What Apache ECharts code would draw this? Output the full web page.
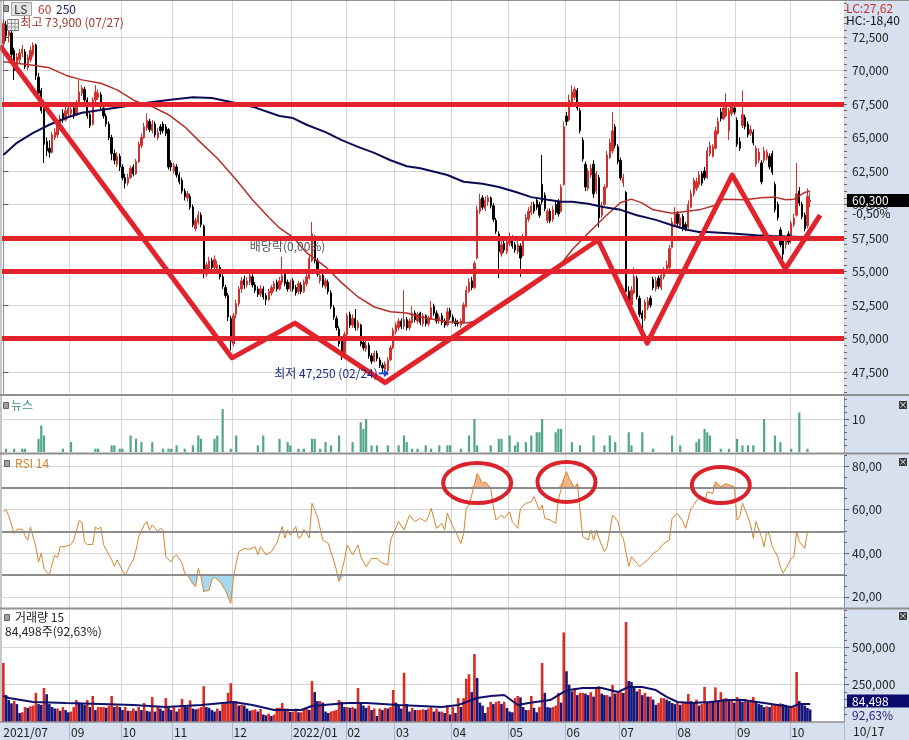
<!DOCTYPE html>
<html>
<head>
<meta charset="utf-8">
<script src="https://cdn.jsdelivr.net/npm/echarts@6/dist/echarts.min.js"></script>
<style>
html,body{margin:0;padding:0;background:#fff;}
#chart{width:909px;height:740px;}
</style>
</head>
<body>
<div id="chart"></div>
<script>
// x axis: months and their trading days (last month cut at 10/14)
const monthLabels = ['2021/07','08','09','10','11','12','2022/01','02','03','04','05','06','07','08','09','10'];
const monthDays   = [4,21,19,19,22,22,20,18,21,21,21,20,21,22,20,8];
const monthShown  = [true,false,true,true,true,true,true,true,true,true,true,true,true,true,true,true];
const blankSlots = 12;

// daily candles [open, close, low, high]
const candles = [
[72000,73500,71800,73900],[73400,72600,72200,73700],[72600,72900,72100,73300],[72800,71200,70900,73000],
[71500,70000,69300,71700],[70300,71000,70100,71300],[70800,71300,70500,71600],[71300,71600,71000,71900],
[71400,70300,70100,71600],[70200,71000,70000,71200],[70800,71500,70600,71800],[71200,71900,71000,72100],
[71900,69600,69300,72000],[69500,68300,68100,69800],[68500,67000,66800,68700],[67200,64500,63100,67300],
[64700,64000,63600,65000],[64200,63900,63500,64800],[63900,65200,63800,65400],[65000,65400,64800,65700],
[65200,66000,65000,66300],[65800,66400,65600,66700],[66800,66300,66100,67100],[66300,67000,66200,67300],
[66800,67200,66600,67500],[66800,67100,66500,67400],[67200,66600,66400,67400],[66700,67500,66600,67800],
[67500,68400,67300,69300],[68300,68700,68100,68900],[68600,67800,67600,68800],[67800,66600,66400,68000],
[66700,65900,65700,66900],[66000,67800,65900,68000],[67800,68400,67600,68900],[68000,68300,67800,68600],
[68200,67300,67100,68400],[67200,66600,66400,67400],[66600,66000,65800,66800],[66000,65000,64800,66200],
[65000,63800,63300,65200],[63800,63300,63000,64100],[63000,63600,62800,63900],[63600,62800,62500,63800],
[62800,62000,61800,63000],[62000,61600,61200,62300],[61600,62000,61400,62300],[62000,62700,61900,62900],
[62800,62300,62100,63000],[62300,63200,62200,63400],[63200,64500,63100,64700],[64400,65000,64200,65300],
[65000,65800,64900,66100],[65700,66300,65500,66800],[66200,65600,65400,66400],[65500,66000,65300,66300],
[66000,65200,65000,66200],[65000,65400,64800,65700],[65800,65500,65200,66000],[66000,65500,65300,66200],
[65800,65300,65100,66000],[65600,62800,62600,65700],[63100,62800,62500,63300],[62500,62900,62300,63100],
[62800,62200,62000,63000],[62200,61700,61500,62400],[61800,61000,60800,62000],[61000,60600,60300,61200],
[60500,60800,60200,61000],[60600,59800,59600,60800],[59800,58500,58300,60000],[58200,58800,58000,59000],
[58700,59200,58500,59500],[59200,58500,58300,59400],[58400,55200,54500,58500],[54800,55500,54600,55700],
[55200,55800,55000,56100],[55800,55300,55100,56000],[55300,55900,55100,56200],[55200,55500,55000,55800],
[55300,54600,54400,55500],[54600,53900,53700,54800],[53800,53200,53000,54000],[53200,51600,51300,53400],
[51500,49800,49100,51700],[49600,51700,49400,51900],[51800,52600,51500,52900],[52600,53700,52400,53900],
[53700,54300,53400,54600],[54400,54000,53700,54700],[54000,54300,53800,54600],[54200,54700,54000,55100],
[54600,54000,53800,54800],[54000,53600,53400,54200],[53700,53300,53100,53900],[53300,53700,53100,54000],
[53700,53100,52900,53900],[53200,52900,52500,53400],[52900,53500,52800,53700],[53400,53800,53200,54000],
[53700,54100,53500,54300],[54200,53700,53500,54400],[53700,54300,53600,54600],[54200,54700,54000,56100],
[54800,54100,53900,55000],[54200,53700,53500,54400],[53700,54200,53500,54400],[54300,53700,53500,54500],
[53800,53400,53200,54000],[53500,54100,53300,54300],[54000,53500,53300,54200],[53500,54200,53400,54400],
[54100,54600,53900,54900],[54500,56000,54400,56300],[55800,57800,55700,58700],[57500,55800,55600,57700],
[55800,54800,54600,56000],[54300,54700,54100,55000],[54700,54000,53800,54900],[53900,54300,53700,54500],
[54200,53500,53300,54400],[53400,52400,52200,53600],[52300,51600,51400,52500],[51500,50800,50600,51700],
[50700,49600,49400,50900],[49800,48800,48400,50000],[48900,50300,48700,50500],[50300,51700,50200,51900],
[51800,51000,50800,52000],[51000,51500,50800,51800],[51500,50800,50600,52200],[50800,51200,50600,51400],
[51000,49600,49400,51100],[49700,49300,49100,49900],[49200,49500,49000,49800],[49500,48700,48500,49700],
[48700,48300,48100,48900],[48300,48900,48200,49100],[48900,48500,48300,49100],[48400,48000,47800,48600],
[48000,47800,47500,48200],[47700,48100,47500,48300],[47600,48400,47250,48600],[48400,49300,48300,49500],
[49300,50600,49200,50800],[50500,51000,50300,51200],[50800,51300,50600,51500],[51300,50900,50700,51500],
[50900,51400,50700,53600],[51400,50800,50600,51600],[50800,51300,50600,51500],[51200,51900,51100,52400],
[51900,51400,51200,52100],[51300,51800,51100,52000],[51900,51200,51000,52000],[51100,51700,50900,51900],
[51700,51100,50900,51800],[51100,51500,50900,51700],[51500,52300,51400,52800],[52400,51900,51700,52600],
[51900,51300,51100,52100],[51300,51600,51100,51800],[51700,51200,51000,51900],[51300,51000,50800,51500],
[51000,52000,50900,52300],[52100,51600,51400,52300],[51600,51300,51100,51800],[51300,51100,50900,51500],
[51200,51100,50900,51400],[51000,51300,50800,51500],[51200,52500,51100,52700],[52400,53600,52300,53900],
[53500,54200,53400,54500],[54300,53800,53600,54600],[53800,55600,53700,55800],[56000,59600,55900,59900],
[59500,60400,59300,60800],[60500,59800,59600,60700],[59700,60300,59500,60600],[60200,60500,59900,60700],
[60500,59900,59700,60600],[59900,58900,58700,60100],[58800,58000,57800,59000],[57800,56500,54500,58000],
[56300,57000,56100,57300],[57100,56600,56400,57400],[56500,57200,56300,57500],[57100,57600,56900,57900],
[57500,56900,56700,57700],[57000,56600,56400,57200],[56500,57000,56300,57300],[56900,56000,54600,57100],
[56200,57500,56100,57800],[57500,59000,57400,59300],[58900,59500,58700,59800],[59400,59900,59200,60200],
[60000,59500,59300,60200],[60300,59800,59600,60500],[60000,59200,59000,60200],[61500,60200,60000,63700],
[60700,59700,59500,60900],[58800,59500,58600,59700],[59500,58800,58600,59700],[58900,59600,58700,59900],
[60000,59400,59200,60200],[60200,59300,59100,60400],[59500,61300,59400,61500],[61500,65800,61400,66200],
[66600,66200,65900,66900],[66300,67800,66200,68200],[67600,68400,67400,68900],[68000,68600,67800,68800],
[68500,67200,67000,68700],[67000,65500,65300,67200],[64800,63400,63200,65000],[63000,61300,61000,63200],
[61200,62500,61000,62700],[62200,62700,62000,63000],[63000,60800,60500,63300],[61000,62300,60800,62500],
[62000,59000,58300,62200],[59200,59900,59000,60200],[60000,61300,59900,61500],[61300,63700,61200,64000],
[63500,64600,63400,64900],[64000,65500,63800,66900],[65800,64400,64200,66000],[64300,63200,63000,64500],
[63300,62000,61800,63500],[61600,62000,61300,62300],[60900,53500,53300,61000],[53500,52600,52300,53900],
[52500,53600,52400,53900],[53400,54600,53300,55300],[54500,53100,52900,54700],[53000,51800,51600,53200],
[51900,51500,50500,52100],[51500,52700,51300,52900],[52300,52800,52100,53100],[53000,52500,52300,53200],
[54400,53800,53600,54600],[53700,54300,53500,54600],[54500,53900,53700,54700],[53800,54700,53600,55000],
[54600,55000,54400,55300],[55000,55500,54800,55800],[55300,56700,55100,57000],[56800,58700,56700,59000],
[58500,59300,58300,59800],[59300,58600,58400,59500],[58400,59000,58200,59300],[59100,58200,58000,59300],
[58500,58200,58000,58700],[58300,60000,58200,60300],[59800,60800,59700,61100],[60800,61800,60600,62000],
[61200,61700,61000,62000],[61500,62200,61300,62500],[62300,61600,61400,62500],[62500,62000,61800,62800],
[62000,64000,61900,64300],[63800,64400,63600,64700],[63600,64300,63500,64500],[64200,65500,64100,65800],
[65300,66200,65200,66500],[66900,66400,66200,67200],[66400,67200,66300,67500],[66600,67400,66500,68300],
[65500,67000,64800,67200],[66800,67300,66600,67600],[67200,66900,66700,67500],[66300,64500,64300,66500],
[64700,64200,64000,65000],[65900,66700,65700,68500],[66500,65800,65600,66700],[66000,65200,65000,66200],
[65300,65600,65100,65900],[65400,64600,64400,65600],[63000,64200,62800,64400],[63300,63900,63100,64200],
[63100,61700,61500,63300],[63300,64000,63100,64300],[63500,63900,63300,64100],[63600,62800,62600,63800],
[63800,62400,62200,64000],[61500,59600,59400,61700],[60000,59000,58800,60200],[58100,57000,56800,58300],
[57500,56300,55900,57700],[57000,57400,56700,57600],[57800,57200,57000,58000],[57300,58600,57100,58800],
[58500,59000,58300,59300],[59200,60800,59100,63100],[61000,60100,59900,61300],[60000,59100,58900,60200],
[59200,58200,58000,59400],[58400,60600,58200,61200],[60200,60300,59800,60900]
];

const volumes = [
395000,180000,147000,125000,142000,120000,60000,65000,100000,95000,105000,110000,195000,120000,115000,228000,
186000,120000,100000,90000,90000,75000,100000,80000,65000,70000,100000,147000,130000,120000,115000,147000,
100000,174000,80000,100000,100000,100000,95000,110000,174000,100000,110000,100000,80000,100000,75000,75000,
90000,75000,100000,80000,127000,75000,70000,167000,70000,100000,90000,75000,160000,95000,80000,100000,
70000,90000,155000,110000,100000,145000,90000,85000,90000,100000,240000,100000,95000,80000,70000,90000,
75000,120000,125000,195000,260000,135000,140000,110000,115000,110000,90000,75000,80000,85000,70000,87000,
50000,45000,55000,40000,50000,95000,95000,127000,90000,90000,67000,70000,90000,65000,65000,90000,
100000,80000,275000,200000,140000,140000,130000,70000,60000,70000,75000,80000,147000,135000,100000,100000,
95000,100000,90000,228000,134000,110000,95000,110000,80000,90000,40000,90000,80000,95000,90000,100000,
215000,130000,110000,90000,330000,120000,70000,94000,80000,80000,80000,85000,80000,90000,100000,70000,
90000,70000,70000,60000,114000,50000,100000,60000,160000,100000,160000,290000,320000,200000,455000,295000,
130000,110000,60000,100000,135000,120000,135000,140000,120000,135000,94000,70000,65000,160000,174000,165000,
100000,80000,80000,174000,95000,65000,100000,395000,195000,100000,95000,100000,110000,195000,130000,600000,
340000,250000,205000,228000,180000,195000,195000,190000,180000,200000,170000,235000,240000,190000,180000,180000,
170000,248000,190000,195000,200000,195000,670000,275000,268000,230000,205000,220000,180000,195000,170000,170000,
150000,115000,127000,160000,160000,150000,140000,127000,120000,127000,115000,127000,130000,188000,140000,127000,
150000,110000,120000,235000,127000,140000,135000,232000,140000,200000,155000,160000,140000,150000,130000,168000,
155000,135000,155000,135000,145000,168000,135000,120000,115000,100000,105000,100000,120000,120000,120000,125000,
120000,115000,100000,100000,100000,335000,140000,115000,110000,94000,84498
];

// moving averages: [day index, value]
const ma60 = [[0,70650],[11,70400],[17,70200],[23,69650],[29,69300],[36,69050],[42,68550],[48,67800],[52,67450],
[55,67300],[61,66700],[67,65800],[73,64600],[79,63450],[86,61850],[92,60350],[98,59050],[102,58250],[107,57550],
[112,56400],[119,55350],[125,54150],[131,53100],[137,52350],[143,52000],[149,51900],[154,51600],[164,51250],
[171,51150],[176,51350],[182,52100],[192,53400],[205,55300],[210,56600],[216,57850],[222,59050],[228,60150],
[232,60400],[236,60100],[240,59600],[247,59350],[257,59600],[263,59950],[266,60400],[274,60350],[280,60500],
[285,60550],[289,60350],[292,60400],[296,60900],[298,61000]];
const ma250 = [[0,63700],[5,64600],[11,65350],[17,65950],[23,66450],[29,66850],[36,67050],[44,67300],[53,67600],
[61,67800],[70,68000],[77,67950],[84,67650],[92,67300],[102,66600],[107,66450],[112,65950],[119,65400],[125,64800],
[131,64300],[137,63850],[143,63300],[149,62850],[154,62700],[164,62200],[170,61700],[177,61550],[183,61300],
[189,60950],[195,60550],[201,60350],[206,60200],[210,60200],[216,60050],[222,59800],[228,59600],[234,59200],
[241,58850],[247,58450],[253,58100],[257,57950],[260,57950],[268,57850],[278,57700],[284,57650],[298,57550]];
const volMa15 = [[0,175000],[2,161000],[11,134000],[23,127000],[36,121000],[48,114000],[60,100000],[73,114000],
[85,134000],[92,114000],[100,80000],[110,80000],[114,107000],[127,127000],[134,127000],[146,114000],[162,100000],
[168,114000],[171,134000],[175,161000],[180,174000],[185,181000],[190,114000],[194,127000],[202,147000],
[207,201000],[209,214000],[214,228000],[221,228000],[227,201000],[231,235000],[236,235000],[241,214000],
[245,168000],[249,134000],[254,127000],[261,134000],[268,147000],[273,147000],[281,127000],[286,114000],
[291,100000],[294,121000],[298,121000]];

// RSI 14: [day index, value]
const rsi14 = [[0,59],[1,60],[2,57],[4,49],[5,51],[7,51],[8,48],[9,46],[10,52],[12,43],[13,36],[14,40],[15,33],
[17,30],[18,35],[19,39],[20,38],[21,43],[23,43],[25,44],[26,46],[28,55],[29,54],[30,45],[31,44],[33,44],[34,52],
[35,51],[36,52],[37,44],[38,41.5],[40,37],[41,34],[42,37],[44,32],[45,30],[47,35],[48,37],[49,41.5],[50,47.6],
[52,53],[53,54.5],[54,50.6],[55,53],[57,50],[58,51.4],[59,50.6],[60,38.4],[62,36],[63,38.4],[64,39.2],[66,35.4],
[67,30.8],[68,30],[70,26],[71,24.6],[72,33],[73,29.2],[74,22.4],[76,23],[77,27.7],[78,29],[80,27],[82,23],[84,17],
[85,29],[86,35.4],[87,40.7],[89,42.2],[91,41.8],[93,43],[94,39.2],[95,43],[97,39.2],[99,40.7],[101,44.5],
[103,52.2],[104,47],[105,50.6],[106,48.4],[108,52.2],[109,47],[110,47.6],[111,51],[113,47],[114,62.9],[116,56.8],
[118,46],[120,44.5],[122,36.9],[123,32.3],[124,27],[126,36.9],[127,43.8],[129,39.2],[131,43.8],[132,38.4],
[134,33.8],[136,37.6],[138,37.6],[140,35.4],[142,34.6],[143,46],[146,54.5],[148,50.6],[150,57.5],[152,54.5],
[154,56],[156,54.5],[157,56.8],[158,60.6],[160,51.4],[162,53.7],[163,50.6],[164,58.3],[166,52.2],[167,50],
[169,44.5],[170,49],[171,60.6],[172,62.1],[174,71.3],[175,76.6],[177,72],[178,72.8],[180,69.8],[181,61.3],
[182,55.2],[184,57.5],[185,56],[187,59],[188,54.5],[190,51.4],[191,60.6],[193,62.9],[195,63.6],[196,65.9],
[198,59.8],[199,62.1],[200,56],[202,55.2],[204,53.7],[205,64.4],[207,74.3],[208,77.4],[209,74.3],[211,69.8],
[212,72],[213,59.8],[214,47.6],[216,46],[217,50.6],[218,46],[219,50.6],[220,46.8],[222,40.7],[223,43],[224,50],
[225,57.5],[227,54.5],[228,49],[229,46.8],[231,33.8],[232,38.4],[234,35.4],[235,33.8],[237,36.1],[238,36.9],
[240,39.9],[242,41.5],[244,44.5],[246,46],[247,56],[249,58.3],[251,54.5],[252,51.4],[254,60.6],[255,62.1],
[257,65.9],[259,63.6],[260,68.2],[262,67.4],[263,72.8],[265,70.5],[267,72],[268,71.3],[270,70.5],[271,55.2],
[272,56.8],[273,62.9],[275,56.8],[276,52.9],[277,46.8],[278,54.5],[280,47.6],[281,43],[282,50],[283,48.4],
[284,43],[286,38.4],[287,33.8],[288,30.8],[289,33],[291,37.6],[292,38.4],[293,50],[294,45.3],[296,42.2],
[297,50],[298,50]];

// news count per day: [day index, count]
const news = [[1,1],[4,1],[7,1],[8,1],[13,4],[14,8],[15,5],[22,1],[25,3],[34,1],[35,1],[40,2],[41,2],[43,1],[44,1],
[47,5],[49,4],[51,3],[55,3],[59,1],[61,1],[62,1],[64,2],[67,1],[70,2],[72,5],[73,4],[78,4],[79,5],[81,13],[84,1],
[86,5],[94,2],[96,5],[102,4],[105,3],[106,2],[109,1],[111,1],[114,4],[115,4],[117,1],[119,3],[121,2],[124,5],
[129,3],[132,9],[133,7],[134,10],[136,2],[138,2],[142,2],[146,2],[148,5],[149,3],[151,1],[153,1],[156,2],[158,1],
[161,2],[164,2],[165,2],[169,1],[172,5],[174,10],[175,2],[180,2],[183,4],[184,4],[187,5],[189,2],[190,3],[193,3],
[195,5],[197,6],[198,6],[199,10],[204,6],[205,7],[206,7],[210,3],[213,2],[218,5],[222,2],[224,5],[226,3],[231,6],
[232,2],[236,6],[240,1],[247,5],[250,2],[256,3],[257,4],[259,7],[260,6],[261,5],[265,1],[268,1],[271,4],[273,2],
[275,2],[277,2],[281,10],[285,5],[287,3],[291,1],[294,12],[297,1]];

// hand drawn annotations on the price pane
const levelLines = [67500, 57500, 55000, 50000];
const patternLine = [[-1.24,71850],[84.5,48550],[107.7,51150],[141,46700],[219.7,57350],[237.8,49650],[269.2,62200],[288.8,55200],[301.7,59200]];
const rsiCircled = [[175,72.2],[208,72.7],[265,71.3]];

// axis ticks
const priceTicks = [47500,50000,52500,55000,57500,60000,62500,65000,67500,70000,72500];
const rsiTicks = [20,40,60,80];
const rsiLevels = [30,50,70];
const rsiOverBought = 70, rsiOverSold = 30;
const volTicks = [250000,500000];
const newsTicks = [10];

const FONT = '"Noto Sans CJK KR","Noto Sans",sans-serif';
const RED = '#d3302b', LINE_RED = '#e2232c';

const categories = [];
const labelAt = new Set(), gridAt = new Set();
monthLabels.forEach((m, k) => {
  const start = categories.length;
  if (monthShown[k]) { labelAt.add(start); if (start > 0) gridAt.add(start); }
  for (let d = 0; d < monthDays[k]; d++) categories.push(m + '|' + d);
});
for (let k = 0; k < blankSlots; k++) categories.push('|b' + k);

const fmtNum = v => String(Math.round(v)).replace(/\B(?=(\d{3})+(?!\d))/g, ',');
const fmtRsi = v => v.toFixed(2).replace('.', ',');
function steps(from, to, step) {
  const out = [];
  for (let v = from; v <= to; v += step) out.push(v);
  return out;
}

function xCat(gridIndex, withLabels) {
  return {
    type: 'category', gridIndex, data: categories, boundaryGap: true,
    axisLine: {show: false},
    axisTick: withLabels ? {show: true, length: 18, interval: i => gridAt.has(i), lineStyle: {color: '#aeb8c8'}} : {show: false},
    axisLabel: withLabels ? {show: true, interval: i => labelAt.has(i), formatter: v => v.split('|')[0],
      align: 'left', margin: 4, color: '#222', fontSize: 12, fontFamily: FONT} : {show: false},
    splitLine: {show: true, interval: i => gridAt.has(i), lineStyle: {color: '#d6d6d6', width: 1}}
  };
}
function yRight(gridIndex, min, max, ticks, fmt) {
  return {
    type: 'value', gridIndex, position: 'right', min, max,
    axisLine: {show: true, lineStyle: {color: '#8090b0'}},
    axisTick: {show: true, length: 5, customValues: ticks, lineStyle: {color: '#555'}},
    axisLabel: {show: true, customValues: ticks, formatter: fmt, color: '#222', fontSize: 12, margin: 8, fontFamily: FONT},
    splitLine: {show: true, lineStyle: {color: '#d6d6d6', width: 1}}
  };
}
// small unlabeled ticks between the labels
function yMinor(gridIndex, min, max, ticks) {
  return {
    type: 'value', gridIndex, position: 'right', min, max,
    axisLine: {show: false}, axisLabel: {show: false}, splitLine: {show: false},
    axisTick: {show: true, length: 3, customValues: ticks, lineStyle: {color: '#666'}}
  };
}

// volume bars: red when volume rose from the previous day, navy when it fell
const volData = volumes.map((v, i) => {
  const up = i === 0 || v >= volumes[i - 1];
  return {value: v, itemStyle: {color: up ? '#d92b22' : '#15157a'}};
});
// RSI clipped at the 70 / 30 bands, for the shaded zones
const rsiAbove = rsi14.map(([i, v]) => [i, Math.max(v, rsiOverBought)]);
const rsiBelow = rsi14.map(([i, v]) => [i, Math.min(v, rsiOverSold)]);

const chart = echarts.init(document.getElementById('chart'));
const option = {
  animation: false,
  backgroundColor: '#ffffff',
  textStyle: {fontFamily: FONT},
  grid: [
    {left: 2, right: 65, top: 1, height: 392},
    {left: 2, right: 65, top: 397, height: 55},
    {left: 2, right: 65, top: 455, height: 152},
    {left: 2, right: 65, top: 610, height: 112}
  ],
  xAxis: [xCat(0, false), xCat(1, false), xCat(2, false), xCat(3, true),
    {type: 'value', gridIndex: 0, min: -0.5, max: categories.length - 0.5, show: false}],
  yAxis: [
    yRight(0, 45931, 75187, priceTicks, fmtNum),
    yRight(1, 0, 16.67, newsTicks, v => String(v)),
    yRight(2, 15.32, 85.05, rsiTicks, fmtRsi),
    yRight(3, 0, 750000, volTicks, fmtNum),
    yMinor(0, 45931, 75187, steps(46000, 75000, 500)),
    yMinor(1, 0, 16.67, steps(2, 16, 2)),
    yMinor(2, 15.32, 85.05, steps(20, 85, 5)),
    yMinor(3, 0, 750000, steps(50000, 750000, 50000))
  ],
  series: [
    {type: 'candlestick', xAxisIndex: 0, yAxisIndex: 0, data: candles, barWidth: 1.8, z: 2,
      itemStyle: {color: RED, color0: '#000', borderColor: RED, borderColor0: '#000', borderWidth: 1}},
    {type: 'line', xAxisIndex: 0, yAxisIndex: 0, data: ma60, showSymbol: false, z: 3,
      lineStyle: {color: '#b3302a', width: 1.5}},
    {type: 'line', xAxisIndex: 0, yAxisIndex: 0, data: ma250, showSymbol: false, z: 3,
      lineStyle: {color: '#0c0c55', width: 2}},
    {type: 'line', xAxisIndex: 4, yAxisIndex: 0, data: patternLine, showSymbol: false, z: 5,
      lineStyle: {color: LINE_RED, width: 5, join: 'round'},
      markLine: {symbol: 'none', silent: true, label: {show: false},
        lineStyle: {color: LINE_RED, width: 5, type: 'solid'},
        data: levelLines.map(v => ({yAxis: v}))}},
    {type: 'bar', xAxisIndex: 1, yAxisIndex: 1, data: news, barWidth: 2.2,
      itemStyle: {color: '#52a688'}},
    {type: 'line', xAxisIndex: 2, yAxisIndex: 2, data: rsiAbove, showSymbol: false, z: 1,
      lineStyle: {width: 0}, areaStyle: {origin: rsiOverBought, color: '#f5b487', opacity: 1},
      markLine: {symbol: 'none', silent: true, label: {show: false},
        lineStyle: {color: '#8c8c8c', width: 2, type: 'solid'},
        data: rsiLevels.map(v => ({yAxis: v}))}},
    {type: 'line', xAxisIndex: 2, yAxisIndex: 2, data: rsiBelow, showSymbol: false, z: 1,
      lineStyle: {width: 0}, areaStyle: {origin: rsiOverSold, color: '#a6d9f0', opacity: 1}},
    {type: 'line', xAxisIndex: 2, yAxisIndex: 2, data: rsi14, showSymbol: false, z: 3,
      lineStyle: {color: '#d4862e', width: 1}},
    {type: 'bar', xAxisIndex: 3, yAxisIndex: 3, data: volData, barWidth: '96%'},
    {type: 'line', xAxisIndex: 3, yAxisIndex: 3, data: volMa15, showSymbol: false, z: 3,
      lineStyle: {color: '#10106a', width: 2}}
  ]
};
chart.setOption(option);

// overlay texts and shapes, anchored to data where they belong to the data
function txt(text, x, y, fill, extra) {
  return {type: 'text', x, y, z: 100,
    style: Object.assign({text, fill, font: '12px ' + FONT, textAlign: 'left', textVerticalAlign: 'middle',
      align: 'left', verticalAlign: 'middle'}, extra || {})};
}
const P = v => chart.convertToPixel({xAxisIndex: 0, yAxisIndex: 0}, v);
const pHigh = P([0, 73900]);
const pLow = P([142, 47250]);
const pDiv = P([105, 56900]);
const yLast = chart.convertToPixel({yAxisIndex: 0}, candles[candles.length - 1][1]);

const g = [
  {type: 'rect', z: -5, shape: {x: 844, y: 0, width: 65, height: 740}, style: {fill: '#d6e0ef'}},
  {type: 'rect', z: -5, shape: {x: 0, y: 722, width: 844, height: 18}, style: {fill: '#d6e0ef'}},
  {type: 'line', z: 50, shape: {x1: 0, y1: 0.5, x2: 909, y2: 0.5}, style: {stroke: '#8f8f8f', lineWidth: 1}},
  {type: 'line', z: 50, shape: {x1: 1, y1: 0, x2: 1, y2: 722}, style: {stroke: '#8f8f8f', lineWidth: 1}},
  {type: 'line', z: 50, shape: {x1: 0, y1: 395, x2: 909, y2: 395}, style: {stroke: '#8f8f8f', lineWidth: 2}},
  {type: 'line', z: 50, shape: {x1: 0, y1: 453.5, x2: 909, y2: 453.5}, style: {stroke: '#8f8f8f', lineWidth: 2}},
  {type: 'line', z: 50, shape: {x1: 0, y1: 608.5, x2: 909, y2: 608.5}, style: {stroke: '#8f8f8f', lineWidth: 2}},
  {type: 'line', z: 50, shape: {x1: 0, y1: 722, x2: 844, y2: 722}, style: {stroke: '#8f8f8f', lineWidth: 1.5}},
  {type: 'rect', z: 100, shape: {x: 3.5, y: 5.5, width: 5, height: 6}, style: {fill: '#a0a0a0', stroke: '#666', lineWidth: 1}},
  {type: 'rect', z: 100, shape: {x: 11.5, y: 2.5, width: 20, height: 13}, style: {fill: '#e2e2e2', stroke: '#a5a5a5', lineWidth: 1}},
  txt('LS', 14, 9, '#333'),
  txt('60', 38, 9, '#c8392e'),
  txt('250', 56, 9, '#1c1c70'),
  {type: 'rect', z: 100, shape: {x: 7.5, y: 19.5, width: 11, height: 11}, style: {fill: '#f2f2f2', stroke: '#777', lineWidth: 1}},
  {type: 'line', z: 101, shape: {x1: 8, y1: 23.5, x2: 18, y2: 23.5}, style: {stroke: '#999', lineWidth: 1}},
  {type: 'line', z: 101, shape: {x1: 8, y1: 27, x2: 18, y2: 27}, style: {stroke: '#999', lineWidth: 1}},
  {type: 'line', z: 101, shape: {x1: 11.5, y1: 20, x2: 11.5, y2: 30}, style: {stroke: '#999', lineWidth: 1}},
  {type: 'line', z: 101, shape: {x1: 15, y1: 20, x2: 15, y2: 30}, style: {stroke: '#999', lineWidth: 1}},
  txt('최고 73,900 (07/27)', pHigh[0] + 17, pHigh[1] + 4, '#a3382f'),
  txt('배당락(0,00%)', pDiv[0], pDiv[1], '#555', {textAlign: 'center', align: 'center'}),
  txt('최저 47,250 (02/24)', pLow[0] - 10, pLow[1] - 2, '#1d2a80', {textAlign: 'right', align: 'right'}),
  {type: 'line', z: 100, shape: {x1: pLow[0] - 9, y1: pLow[1] - 2, x2: pLow[0] - 3, y2: pLow[1] - 2}, style: {stroke: '#1f45d8', lineWidth: 2}},
  {type: 'polygon', z: 100, shape: {points: [[pLow[0] - 4, pLow[1] - 6], [pLow[0] + 1, pLow[1] - 2], [pLow[0] - 4, pLow[1] + 2]]}, style: {fill: '#1f45d8'}},
  txt('LC:27,62', 846, 8, '#cf3030'),
  txt('HC:-18,40', 846, 20, '#111'),
  {type: 'rect', z: 100, shape: {x: 847, y: yLast - 6.5, width: 62, height: 13}, style: {fill: '#000'}},
  txt('60,300', 852, yLast, '#fff'),
  txt('-0,50%', 852, yLast + 12.5, '#111'),
  {type: 'rect', z: 100, shape: {x: 847, y: 694.5, width: 62, height: 13}, style: {fill: '#0b0b6e'}},
  txt('84,498', 852, 701, '#fff'),
  txt('92,63%', 852, 715, '#1f1f70'),
  txt('10/17', 853, 731, '#222'),
  {type: 'rect', z: 100, shape: {x: 3.5, y: 402.5, width: 5, height: 6}, style: {fill: '#a0a0a0', stroke: '#666', lineWidth: 1}},
  txt('뉴스', 11, 405, '#3a9a80'),
  {type: 'rect', z: 100, shape: {x: 4.5, y: 460.5, width: 5, height: 6}, style: {fill: '#a0a0a0', stroke: '#666', lineWidth: 1}},
  txt('RSI 14', 15, 463, '#d07f2e'),
  {type: 'rect', z: 100, shape: {x: 4.5, y: 614.5, width: 5, height: 6}, style: {fill: '#a0a0a0', stroke: '#666', lineWidth: 1}},
  txt('거래량 15', 15, 617, '#222'),
  txt('84,498주(92,63%)', 5, 631, '#222')
];
[401, 458, 612].forEach(y => {
  g.push({type: 'rect', z: 100, shape: {x: 899, y, width: 8, height: 8}, style: {fill: '#3a3a3a'}});
  g.push(txt('×', 903, y + 4, '#fff', {font: '9px ' + FONT, textAlign: 'center', align: 'center'}));
});
const radii = [[34, 20], [29, 20], [29, 18]];
rsiCircled.forEach((c, k) => {
  const p = chart.convertToPixel({xAxisIndex: 2, yAxisIndex: 2}, c);
  g.push({type: 'ellipse', z: 60, shape: {cx: p[0], cy: p[1], rx: radii[k][0], ry: radii[k][1]},
    style: {fill: 'none', stroke: '#d9232b', lineWidth: 4}});
});
chart.setOption({graphic: g});
</script>
</body>
</html>
